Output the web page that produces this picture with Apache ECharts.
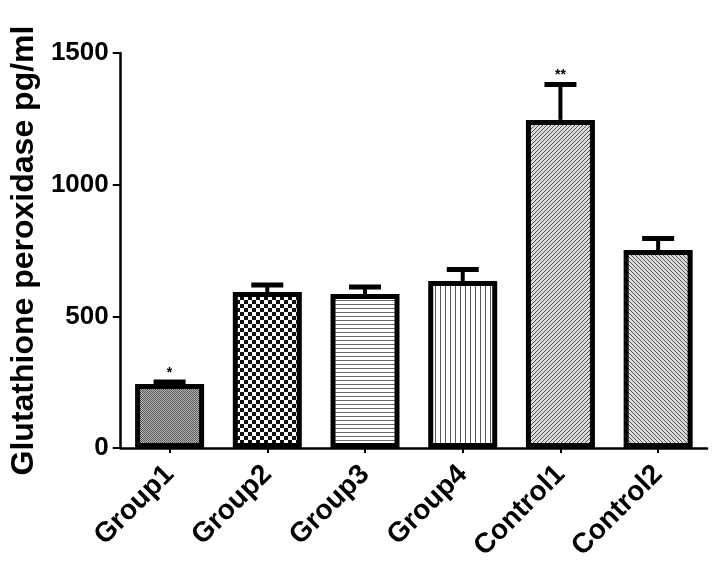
<!DOCTYPE html>
<html>
<head>
<meta charset="utf-8">
<script src="https://cdn.jsdelivr.net/npm/echarts@6/dist/echarts.min.js"></script>
<style>
html,body{margin:0;padding:0;background:#fff;}
#chart{width:722px;height:570px;}
</style>
</head>
<body>
<div id="chart"></div>
<script>
const categories = ['Group1', 'Group2', 'Group3', 'Group4', 'Control1', 'Control2'];
const means = [243, 592, 585, 634, 1246, 752];
const errors = [8, 27, 26, 44, 134, 44];
const stars = ['*', '', '', '', '**', ''];
const yTicks = { min: 0, max: 1500, interval: 500 };
const yTitle = 'Glutathione peroxidase pg/ml';

function makePattern(kind) {
  const c = document.createElement('canvas');
  const ctx = c.getContext('2d');
  let s;
  if (kind === 'fine') {
    s = 2; c.width = s; c.height = s;
    ctx.fillStyle = '#b8b8b8'; ctx.fillRect(0, 0, 2, 2);
    ctx.fillStyle = '#555555'; ctx.fillRect(0, 0, 1, 1); ctx.fillRect(1, 1, 1, 1);
  } else if (kind === 'checker') {
    s = 8; c.width = s; c.height = s;
    ctx.fillStyle = '#ffffff'; ctx.fillRect(0, 0, s, s);
    ctx.fillStyle = '#111111'; ctx.fillRect(0, 0, 4, 4); ctx.fillRect(4, 4, 4, 4);
  } else if (kind === 'hlines') {
    s = 4; c.width = s; c.height = s;
    ctx.fillStyle = '#ffffff'; ctx.fillRect(0, 0, s, s);
    ctx.fillStyle = '#6a6a6a'; ctx.fillRect(0, 0, s, 1);
  } else if (kind === 'vlines') {
    s = 5; c.width = s; c.height = s;
    ctx.fillStyle = '#ffffff'; ctx.fillRect(0, 0, s, s);
    ctx.fillStyle = '#555555'; ctx.fillRect(0, 0, 1, s);
  } else if (kind === 'diagR' || kind === 'diagL') {
    s = 4; c.width = s; c.height = s;
    ctx.fillStyle = '#dadada'; ctx.fillRect(0, 0, s, s);
    ctx.fillStyle = '#555555';
    for (let i = 0; i < s; i++) {
      const x = kind === 'diagR' ? (s - 1 - i) : i;
      ctx.fillRect(x, i, 1, 1);
    }
  }
  return { image: c, repeat: 'repeat' };
}
const patternKinds = ['fine', 'checker', 'hlines', 'vlines', 'diagR', 'diagL'];

const font = '"Liberation Sans", Arial, Helvetica, sans-serif';
const chart = echarts.init(document.getElementById('chart'), null, { renderer: 'canvas' });

const barData = means.map((v, i) => ({
  value: v,
  itemStyle: { color: makePattern(patternKinds[i]) }
}));
const errData = means.map((v, i) => [i, v, errors[i], stars[i]]);

chart.setOption({
  animation: false,
  backgroundColor: '#ffffff',
  grid: { left: 120, right: 15, top: 53, bottom: 122 },
  xAxis: {
    type: 'category',
    data: categories,
    axisLine: { lineStyle: { color: '#000', width: 2.5 } },
    axisTick: { show: true, alignWithLabel: true, length: 5, lineStyle: { color: '#000', width: 2 } },
    axisLabel: {
      rotate: 45, margin: 22, color: '#000',
      fontFamily: font, fontWeight: 'bold', fontSize: 28
    }
  },
  yAxis: {
    type: 'value',
    min: yTicks.min, max: yTicks.max, interval: yTicks.interval,
    name: yTitle,
    nameLocation: 'middle',
    nameGap: 76,
    nameTextStyle: { color: '#000', fontFamily: font, fontWeight: 'bold', fontSize: 32 },
    axisLine: { show: true, lineStyle: { color: '#000', width: 2.5 } },
    axisTick: { show: true, length: 8, lineStyle: { color: '#000', width: 2 } },
    splitLine: { show: false },
    axisLabel: {
      margin: 12, color: '#000', fontFamily: font, fontWeight: 'bold', fontSize: 26,
      formatter: function (v) { return String(v); }
    }
  },
  series: [
    {
      type: 'bar',
      data: barData,
      barWidth: 69,
      itemStyle: { borderColor: '#000', borderWidth: 5 },
      z: 2
    },
    {
      type: 'custom',
      data: errData,
      z: 3,
      renderItem: function (params, api) {
        const i = api.value(0);
        const v = api.value(1);
        const e = api.value(2);
        const star = errData[params.dataIndex][3];
        const base = api.coord([i, v]);
        const top = api.coord([i, v + e]);
        const children = [
          { type: 'line', shape: { x1: base[0], y1: base[1], x2: top[0], y2: top[1] },
            style: { stroke: '#000', lineWidth: 4 } },
          { type: 'line', shape: { x1: top[0] - 16, y1: top[1], x2: top[0] + 16, y2: top[1] },
            style: { stroke: '#000', lineWidth: 5 } }
        ];
        if (star) {
          children.push({ type: 'text', x: top[0], y: top[1] - 2,
            style: { text: star, fill: '#000', font: 'bold 14px ' + font, align: 'center', verticalAlign: 'bottom' } });
        }
        return { type: 'group', children: children };
      }
    }
  ]
});
</script>
</body>
</html>
